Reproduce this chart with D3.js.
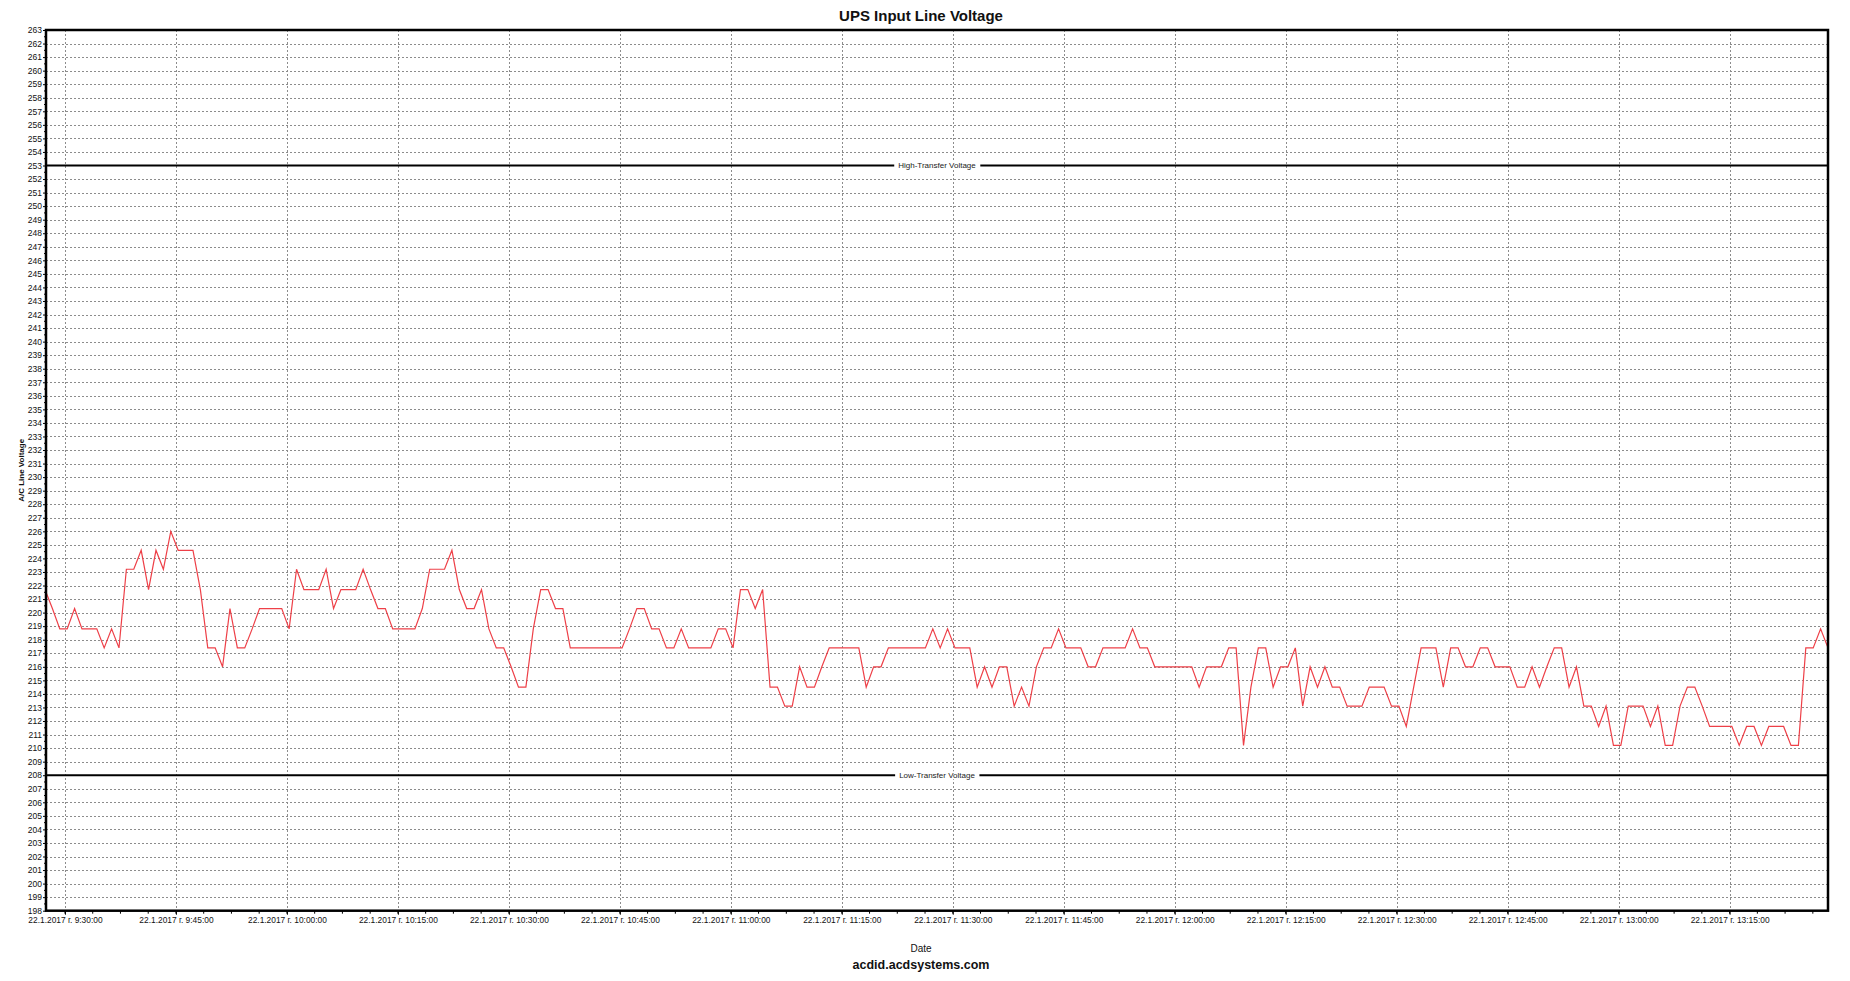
<!DOCTYPE html>
<html>
<head>
<meta charset="utf-8">
<script src="https://cdn.jsdelivr.net/npm/d3@7"></script>
<style>
  html, body { margin: 0; padding: 0; background: #fff; }
  svg { display: block; font-family: "Liberation Sans", Arial, sans-serif; }
</style>
</head>
<body>
<svg id="chart" width="1850" height="981"></svg>
<script>
// ---------------- DATA ----------------
const chartTitle = "UPS Input Line Voltage";
const xAxisTitle = "Date";
const yAxisTitle = "A/C Line Voltage";
const footerText = "acdid.acdsystems.com";

const startTime = "2017-01-22T09:27:18";   // first sample
const sampleStepMinutes = 1;               // one sample per minute

const voltage = [
  221.7, 220.3, 218.8, 218.8, 220.3, 218.8, 218.8, 218.8, 217.4, 218.8,
  217.4, 223.2, 223.2, 224.6, 221.7, 224.6, 223.2, 226.0, 224.6, 224.6,
  224.6, 221.7, 217.4, 217.4, 216.0, 220.3, 217.4, 217.4, 218.8, 220.3,
  220.3, 220.3, 220.3, 218.8, 223.2, 221.7, 221.7, 221.7, 223.2, 220.3,
  221.7, 221.7, 221.7, 223.2, 221.7, 220.3, 220.3, 218.8, 218.8, 218.8,
  218.8, 220.3, 223.2, 223.2, 223.2, 224.6, 221.7, 220.3, 220.3, 221.7,
  218.8, 217.4, 217.4, 216.0, 214.5, 214.5, 218.8, 221.7, 221.7, 220.3,
  220.3, 217.4, 217.4, 217.4, 217.4, 217.4, 217.4, 217.4, 217.4, 218.8,
  220.3, 220.3, 218.8, 218.8, 217.4, 217.4, 218.8, 217.4, 217.4, 217.4,
  217.4, 218.8, 218.8, 217.4, 221.7, 221.7, 220.3, 221.7, 214.5, 214.5,
  213.1, 213.1, 216.0, 214.5, 214.5, 216.0, 217.4, 217.4, 217.4, 217.4,
  217.4, 214.5, 216.0, 216.0, 217.4, 217.4, 217.4, 217.4, 217.4, 217.4,
  218.8, 217.4, 218.8, 217.4, 217.4, 217.4, 214.5, 216.0, 214.5, 216.0,
  216.0, 213.1, 214.5, 213.1, 216.0, 217.4, 217.4, 218.8, 217.4, 217.4,
  217.4, 216.0, 216.0, 217.4, 217.4, 217.4, 217.4, 218.8, 217.4, 217.4,
  216.0, 216.0, 216.0, 216.0, 216.0, 216.0, 214.5, 216.0, 216.0, 216.0,
  217.4, 217.4, 210.2, 214.5, 217.4, 217.4, 214.5, 216.0, 216.0, 217.4,
  213.1, 216.0, 214.5, 216.0, 214.5, 214.5, 213.1, 213.1, 213.1, 214.5,
  214.5, 214.5, 213.1, 213.1, 211.6, 214.5, 217.4, 217.4, 217.4, 214.5,
  217.4, 217.4, 216.0, 216.0, 217.4, 217.4, 216.0, 216.0, 216.0, 214.5,
  214.5, 216.0, 214.5, 216.0, 217.4, 217.4, 214.5, 216.0, 213.1, 213.1,
  211.6, 213.1, 210.2, 210.2, 213.1, 213.1, 213.1, 211.6, 213.1, 210.2,
  210.2, 213.1, 214.5, 214.5, 213.1, 211.6, 211.6, 211.6, 211.6, 210.2,
  211.6, 211.6, 210.2, 211.6, 211.6, 211.6, 210.2, 210.2, 217.4, 217.4,
  218.8, 217.4
];

const yDomain = [198, 263];
const xTickTimes = ["09:30","09:45","10:00","10:15","10:30","10:45","11:00","11:15",
                    "11:30","11:45","12:00","12:15","12:30","12:45","13:00","13:15"];
const thresholds = [
  { label: "High-Transfer Voltage", value: 253 },
  { label: "Low-Transfer Voltage",  value: 208 }
];

// ---------------- LAYOUT ----------------
const plot = { left: 46, right: 1828, top: 30, bottom: 910.7 };
const svg = d3.select("#chart");
svg.append("rect").attr("width", 1850).attr("height", 981).attr("fill", "#fff");

const t0 = new Date(startTime);
const times = voltage.map((v, i) => d3.timeMinute.offset(t0, i * sampleStepMinutes));
const data = voltage.map((v, i) => ({ t: times[i], v }));

const x = d3.scaleTime()
  .domain([times[0], times[times.length - 1]])
  .range([plot.left - 1, plot.right]);
const y = d3.scaleLinear().domain(yDomain).range([plot.bottom, plot.top]);

const majorTicks = xTickTimes.map(s => new Date("2017-01-22T" + s + ":00"));
const minorTicks = [];
{
  const dom = x.domain();
  const step = 3.75 * 60000;
  let t = majorTicks[0].getTime();
  while (t - step >= dom[0].getTime()) t -= step;
  for (; t <= dom[1].getTime(); t += step) minorTicks.push(new Date(t));
}
const yTicks = d3.range(yDomain[0], yDomain[1] + 1, 1);

// ---------------- GRID ----------------
const grid = svg.append("g");
grid.selectAll("line.hg").data(yTicks.filter(d => d > yDomain[0] && d < yDomain[1]))
  .join("line")
  .attr("x1", plot.left).attr("x2", plot.right)
  .attr("y1", d => Math.round(y(d)) + 0.5).attr("y2", d => Math.round(y(d)) + 0.5)
  .attr("stroke", "#8c8c8c").attr("stroke-width", 1).attr("stroke-dasharray", "2,2");
grid.selectAll("line.vg").data(majorTicks)
  .join("line")
  .attr("y1", plot.top).attr("y2", plot.bottom)
  .attr("x1", d => Math.round(x(d)) + 0.5).attr("x2", d => Math.round(x(d)) + 0.5)
  .attr("stroke", "#8c8c8c").attr("stroke-width", 1).attr("stroke-dasharray", "2,2");

// ---------------- THRESHOLDS ----------------
const cx = (plot.left + plot.right) / 2;
thresholds.forEach(th => {
  const yy = y(th.value);
  svg.append("line")
    .attr("x1", plot.left).attr("x2", plot.right)
    .attr("y1", yy).attr("y2", yy)
    .attr("stroke", "#000").attr("stroke-width", 2);
  const txt = svg.append("text")
    .attr("x", cx).attr("y", yy).attr("dy", "0.35em")
    .attr("text-anchor", "middle")
    .attr("font-size", "8px").attr("fill", "#222")
    .text(th.label);
  const bb = txt.node().getBBox();
  svg.insert("rect", () => txt.node())
    .attr("x", bb.x - 4).attr("y", yy - 4).attr("width", bb.width + 8).attr("height", 8)
    .attr("fill", "#fff");
});

// ---------------- LINE ----------------
svg.append("defs").append("clipPath").attr("id", "clip")
  .append("rect").attr("x", plot.left).attr("y", plot.top)
  .attr("width", plot.right - plot.left).attr("height", plot.bottom - plot.top);
svg.append("path")
  .datum(data)
  .attr("clip-path", "url(#clip)")
  .attr("fill", "none")
  .attr("stroke", "#ee4048")
  .attr("stroke-width", 1.2)
  .attr("stroke-linejoin", "miter")
  .attr("d", d3.line().x(d => x(d.t)).y(d => y(d.v)));

// ---------------- AXES ----------------
const fmt = d3.timeFormat("%-d.%-m.%Y г. %-H:%M:%S");
const xAxis = d3.axisBottom(x).tickValues(majorTicks).tickFormat(fmt).tickSize(4).tickPadding(2);
const gx = svg.append("g").attr("transform", `translate(0,${plot.bottom})`).call(xAxis);
gx.select(".domain").remove();
gx.selectAll("text").attr("font-size", "8.4px").attr("fill", "#111");
gx.selectAll("line").attr("stroke", "#000");
svg.append("g").selectAll("line").data(minorTicks).join("line")
  .attr("x1", d => x(d)).attr("x2", d => x(d))
  .attr("y1", plot.bottom).attr("y2", plot.bottom + 3)
  .attr("stroke", "#000");

const yAxis = d3.axisLeft(y).tickValues(yTicks).tickFormat(d3.format("d")).tickSize(3).tickPadding(1);
const gy = svg.append("g").attr("transform", `translate(${plot.left},0)`).call(yAxis);
gy.select(".domain").remove();
gy.selectAll("text").attr("font-size", "8.5px").attr("fill", "#111");
gy.selectAll("line").attr("stroke", "#000");
svg.append("g").selectAll("line").data(d3.range(yDomain[0] + 0.5, yDomain[1], 1)).join("line")
  .attr("x1", plot.left - 2).attr("x2", plot.left)
  .attr("y1", d => y(d)).attr("y2", d => y(d))
  .attr("stroke", "#000");

// frame
svg.append("rect")
  .attr("x", plot.left).attr("y", plot.top)
  .attr("width", plot.right - plot.left).attr("height", plot.bottom - plot.top)
  .attr("fill", "none").attr("stroke", "#000").attr("stroke-width", 2.5);

// ---------------- TITLES ----------------
svg.append("text").attr("x", 921).attr("y", 21)
  .attr("text-anchor", "middle").attr("font-size", "15px").attr("font-weight", "bold")
  .attr("fill", "#111").text(chartTitle);
svg.append("text").attr("x", 921).attr("y", 952)
  .attr("text-anchor", "middle").attr("font-size", "10px")
  .attr("fill", "#111").text(xAxisTitle);
svg.append("text").attr("x", 921).attr("y", 969)
  .attr("text-anchor", "middle").attr("font-size", "12.5px").attr("font-weight", "bold")
  .attr("fill", "#111").text(footerText);
svg.append("text")
  .attr("transform", `translate(24,${(plot.top + plot.bottom) / 2}) rotate(-90)`)
  .attr("text-anchor", "middle").attr("font-size", "8px").attr("font-weight", "bold")
  .attr("fill", "#111").text(yAxisTitle);
</script>
</body>
</html>
